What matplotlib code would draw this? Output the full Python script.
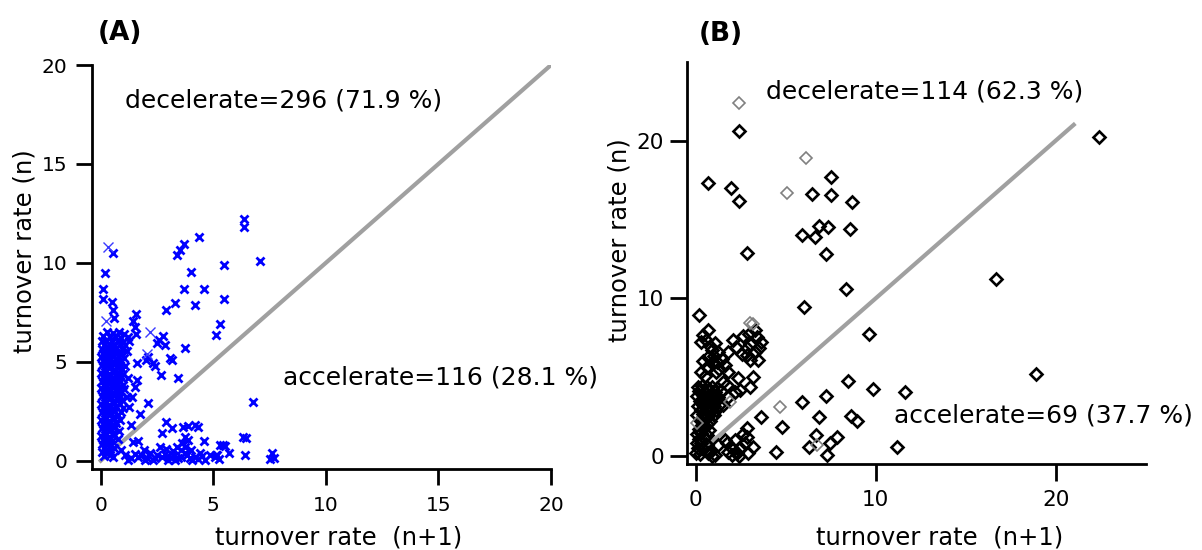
import numpy as np
import matplotlib
matplotlib.use('Agg')
import matplotlib.pyplot as plt

# ---- panel A : turnover rate (n) vs (n+1), blue crosses ----
# dense column near the origin
a_dense = [
    (0.30,6.50),(0.55,6.45),(0.80,6.50),(1.05,6.40),
    (0.10,6.30),(0.40,6.25),(0.65,6.30),(0.90,6.20),(1.20,6.25),
    (0.05,6.05),(0.25,6.10),(0.50,6.00),(0.75,6.10),(1.00,6.00),(1.25,6.05),
    (0.15,5.85),(0.35,5.90),(0.60,5.80),(0.85,5.90),(1.10,5.85),
    (0.05,5.65),(0.30,5.70),(0.50,5.60),(0.70,5.70),(0.95,5.65),(1.15,5.55),
    (0.10,5.45),(0.25,5.50),(0.45,5.40),(0.65,5.50),(0.90,5.45),
    (0.00,5.25),(0.20,5.30),(0.40,5.20),(0.60,5.30),(0.80,5.25),(1.05,5.20),
    (0.10,5.05),(0.30,5.10),(0.50,5.00),(0.70,5.10),(0.90,5.05),
    (0.05,4.85),(0.25,4.90),(0.45,4.80),(0.65,4.90),(0.85,4.85),(1.10,4.80),
    (0.15,4.65),(0.35,4.70),(0.55,4.60),(0.75,4.70),(0.95,4.65),
    (0.00,4.45),(0.20,4.50),(0.40,4.40),(0.60,4.50),(0.80,4.45),(1.00,4.40),
    (0.10,4.25),(0.30,4.30),(0.50,4.20),(0.70,4.30),(0.90,4.25),(1.20,4.20),
    (0.05,4.05),(0.25,4.10),(0.45,4.00),(0.65,4.10),(0.85,4.05),
    (0.15,3.85),(0.35,3.90),(0.55,3.80),(0.75,3.90),(1.00,3.85),
    (0.00,3.65),(0.20,3.70),(0.40,3.60),(0.60,3.70),(0.80,3.65),(1.05,3.60),
    (0.10,3.45),(0.30,3.50),(0.50,3.40),(0.70,3.50),(0.90,3.45),
    (0.05,3.25),(0.25,3.30),(0.45,3.20),(0.65,3.30),(0.85,3.25),(1.15,3.20),
    (0.15,3.05),(0.35,3.10),(0.55,3.00),(0.75,3.10),(0.95,3.05),
    (0.00,2.85),(0.20,2.90),(0.40,2.80),(0.60,2.90),(0.85,2.85),
    (0.10,2.65),(0.30,2.70),(0.50,2.60),(0.70,2.70),(1.00,2.65),
    (0.05,2.45),(0.25,2.50),(0.45,2.40),(0.65,2.50),(0.90,2.45),
    (0.15,2.25),(0.35,2.30),(0.55,2.20),(0.75,2.30),
    (0.00,2.05),(0.20,2.10),(0.40,2.00),(0.60,2.10),(0.85,2.05),
    (0.10,1.85),(0.30,1.90),(0.50,1.80),(0.70,1.90),
    (0.05,1.65),(0.25,1.70),(0.45,1.60),(0.65,1.70),
    (0.15,1.45),(0.35,1.50),(0.55,1.40),(0.80,1.50),
    (0.00,1.25),(0.20,1.30),(0.40,1.20),(0.60,1.30),
    (0.10,1.05),(0.30,1.10),(0.50,1.00),(0.75,1.10),
    (0.05,0.85),(0.25,0.90),(0.45,0.80),
    (0.15,0.65),(0.35,0.70),(0.60,0.65),
    (0.05,0.45),(0.25,0.50),(0.45,0.45),
    (0.15,0.25),(0.40,0.30),
]
# scattered points above the diagonal (decelerate)
a_upper = [
    (6.35,12.2),(6.38,11.8),(0.55,10.5),(4.35,11.3),(3.70,10.95),(3.50,10.65),
    (3.38,10.4),(7.07,10.1),(0.19,9.5),(5.46,9.9),(4.00,9.55),(0.12,8.67),
    (3.68,8.67),(4.60,8.67),(0.12,8.15),(0.50,8.0),(0.55,7.6),(0.60,7.2),
    (5.46,8.15),(3.30,7.95),(2.90,7.6),(4.20,7.86),(1.55,7.4),(1.45,7.05),
    (1.50,6.75),(1.57,6.4),(5.30,6.9),(5.10,6.33),(2.75,6.3),(2.60,6.1),
    (2.48,5.93),(2.85,5.84),(3.74,5.72),(2.10,5.25),(2.03,5.08),(2.33,4.92),
    (2.40,4.78),(3.07,5.17),(3.15,5.08),(1.59,4.95),(2.67,4.33),(3.41,4.16),
    (1.59,4.08),(1.51,3.74),(1.38,3.23),(1.27,2.73),(2.10,2.93),(1.74,2.36),
    (1.36,1.80),
]
# scattered points below the diagonal (accelerate)
a_lower = [
    (2.92,1.97),(3.15,1.64),(2.70,1.41),(3.67,1.72),(3.89,1.75),(4.19,1.80),
    (4.33,1.72),(3.74,1.21),(3.89,1.05),(3.59,0.88),(3.74,0.71),(4.60,1.01),
    (1.66,1.01),(1.44,0.96),(0.92,0.54),(0.55,0.20),
    (1.07,0.29),(1.36,0.12),(1.66,0.20),(1.96,0.04),(2.18,0.37),(2.40,0.12),
    (2.63,0.71),(2.70,0.20),(3.00,0.04),(3.22,0.29),(3.37,0.71),(3.44,0.12),
    (3.74,0.37),(3.96,0.12),(4.19,0.20),(4.41,0.37),(4.63,0.04),(4.86,0.29),
    (5.08,0.20),(1.20,0.05),(1.50,0.35),(1.80,0.30),(2.05,0.15),(2.30,0.05),
    (2.50,0.30),(2.85,0.35),(3.10,0.15),(3.30,0.05),(3.55,0.20),(3.85,0.30),
    (4.05,0.05),(4.30,0.10),(4.50,0.25),(3.20,0.50),(2.90,0.60),(3.55,0.55),
    (4.00,0.55),(1.90,0.55),
    (5.10,0.29),(5.24,0.10),(5.31,0.78),(5.50,0.74),(5.68,0.37),(6.30,1.20),
    (6.45,1.15),(6.43,0.29),(7.60,0.37),(7.70,0.15),(7.52,0.07),(6.77,2.95),
    (5.43,0.79),(5.17,0.29),
]
a_thin = [(0.34,10.8),(0.22,7.05),(2.20,6.5),(2.05,5.4)]
diag_a = [0, 20]

# ---- panel B : open diamonds ----
b_upper = [
    (2.42,20.6),(0.70,17.3),(1.96,17.0),(2.39,16.2),(2.83,12.9),(7.50,17.7),
    (6.46,16.6),(7.52,16.56),(8.68,16.1),(6.83,14.6),(7.33,14.5),(6.63,13.9),
    (5.89,14.0),(8.57,14.37),(7.22,12.8),(8.35,10.57),(6.02,9.45),(0.18,8.97),
    (22.4,20.2),
    (0.67,8.02),(0.42,7.66),(0.29,7.23),(2.09,7.34),(3.29,7.97),(3.39,7.55),
    (3.02,7.13),(3.63,7.23),(1.07,7.17),(0.89,6.71),(1.26,6.6),(1.81,6.6),
    (1.44,6.18),(1.17,5.97),(2.55,6.5),(2.83,6.39),(3.29,6.6),(3.44,6.12),
    (3.02,6.08),(0.61,5.65),(0.89,5.87),(1.63,5.76),(1.81,5.34),(0.30,5.30),
    (2.37,4.92),(3.20,5.02),(3.02,4.35),(1.53,4.70),(1.72,4.49),(2.18,4.07),
    (2.46,4.18),(1.81,3.75),(1.53,3.23),(0.55,7.35),(0.80,7.0),(0.70,6.3),
    (1.00,6.35),(0.40,6.0),(1.30,5.5),(2.60,7.6),(2.95,7.75),(3.50,6.85),
    (2.25,6.9),(2.85,6.85),(0.50,5.1),(1.10,5.3),
]
b_dense = [
    (0.10,4.40),(0.35,4.45),(0.60,4.35),(0.90,4.40),(1.20,4.30),
    (0.20,4.10),(0.50,4.05),(0.75,4.15),(1.05,4.05),(1.40,4.10),
    (0.05,3.80),(0.40,3.85),(0.65,3.75),(0.95,3.80),(1.25,3.75),
    (0.25,3.50),(0.55,3.55),(0.80,3.45),(1.10,3.50),
    (0.10,3.20),(0.40,3.25),(0.70,3.15),(1.00,3.20),(1.30,3.25),
    (0.30,2.90),(0.55,2.95),(0.85,2.85),(1.15,2.90),
    (0.05,2.60),(0.40,2.65),(0.70,2.55),(1.00,2.60),
    (0.25,2.30),(0.50,2.35),(0.80,2.25),
    (0.35,2.00),(0.65,2.05),
    (0.20,1.70),(0.45,1.75),(0.75,1.65),
    (0.05,1.40),(0.30,1.45),(0.60,1.35),
    (0.20,1.10),(0.45,1.15),
    (0.05,0.80),(0.30,0.85),(0.55,0.75),
    (0.15,0.50),(0.40,0.45),
    (0.00,0.20),(0.25,0.15),
]
b_lower = [
    (0.79,0.27),(1.07,0.06),(0.89,0.00),(0.70,0.17),(0.65,0.70),(1.25,0.70),
    (1.72,0.80),(1.81,0.27),(2.00,0.49),(2.18,1.01),(2.28,0.17),(2.46,0.49),
    (2.74,0.80),(2.83,1.22),(2.65,1.43),(2.83,1.75),(3.20,0.59),(2.90,0.20),
    (3.60,2.47),(4.45,0.25),(4.82,1.84),(5.90,3.40),(7.24,3.84),(6.85,2.50),
    (8.44,4.74),(9.87,4.26),(8.61,2.53),(8.94,2.24),(6.67,1.33),(7.83,1.18),
    (7.46,0.84),(6.29,0.59),(7.30,0.10),(2.00,0.05),(2.40,0.00),(1.60,1.00),
    (9.65,7.77),(16.7,11.25),(18.9,5.23),(11.65,4.05),(11.2,0.59),
]
b_gray = [(2.41,22.4),(6.11,18.9),(5.06,16.7),(3.00,8.46),(3.20,8.40),
          (4.68,3.10),(6.72,0.68),(0.05,2.07),(1.90,3.44)]
diag_b = [0, 21]

plt.rcParams['font.family'] = 'DejaVu Sans'

fig = plt.figure(figsize=(12.02, 5.5), dpi=100)
axA = fig.add_axes([0.0765, 0.1473, 0.3819, 0.7345])
axB = fig.add_axes([0.5713, 0.1564, 0.3819, 0.7314])

def style(ax, ticks, size, xpad, ypad, tlen):
    for s in ['top', 'right']:
        ax.spines[s].set_visible(False)
    for s in ['left', 'bottom']:
        ax.spines[s].set_linewidth(2)
    ax.set_xticks(ticks)
    ax.set_yticks(ticks)
    ax.set_xticklabels([str(t) for t in ticks], fontsize=size)
    ax.set_yticklabels([str(t) for t in ticks], fontsize=size)
    ax.tick_params(direction='out', length=tlen, width=2)
    ax.tick_params(axis='x', pad=xpad)
    ax.tick_params(axis='y', pad=ypad)

# panel A
axA.plot(diag_a, diag_a, color='#a0a0a0', lw=3, zorder=1)
for pts in [a_dense, a_upper, a_lower]:
    p = np.array(pts)
    axA.plot(p[:, 0], p[:, 1], 'x', color='#0000ff', ms=6, mew=2.0, zorder=2)
p = np.array(a_thin)
axA.plot(p[:, 0], p[:, 1], 'x', color='#3a3aff', ms=7, mew=1.0, zorder=2)
axA.set_xlim(-0.39, 20)
axA.set_ylim(-0.42, 20)
style(axA, [0, 5, 10, 15, 20], 14.5, 8, 6, 11.5)

# panel B
axB.plot(diag_b, diag_b, color='#a0a0a0', lw=3, zorder=1)
for pts in [b_dense, b_upper, b_lower]:
    p = np.array(pts)
    axB.plot(p[:, 0], p[:, 1], 'D', mfc='none', mec='black', ms=6, mew=1.9, zorder=2)
p = np.array(b_gray)
axB.plot(p[:, 0], p[:, 1], 'D', mfc='none', mec='#808080', ms=6.5, mew=1.2, zorder=2)
axB.set_xlim(-0.5, 25)
axB.set_ylim(-0.5, 25)
style(axB, [0, 10, 20], 15.5, 7, 4.5, 12)

W, H = 1202.0, 550.0
fig.text(98 / W, 1 - 32.5 / H, '(A)', fontsize=19, fontweight='bold', ha='left', va='center')
fig.text(699 / W, 1 - 34 / H, '(B)', fontsize=19, fontweight='bold', ha='left', va='center')

fig.text(125 / W, 1 - 107.5 / H, 'decelerate=296 (71.9 %)', fontsize=18, ha='left', va='baseline')
fig.text(283 / W, 1 - 384 / H, 'accelerate=116 (28.1 %)', fontsize=18, ha='left', va='baseline')
fig.text(765.5 / W, 1 - 98.3 / H, 'decelerate=114 (62.3 %)', fontsize=18, ha='left', va='baseline')
fig.text(894 / W, 1 - 422.3 / H, 'accelerate=69 (37.7 %)', fontsize=18, ha='left', va='baseline')

fig.text(339 / W, 1 - 545 / H, 'turnover rate  (n+1)', fontsize=17.5, ha='center', va='baseline')
fig.text(940 / W, 1 - 545 / H, 'turnover rate  (n+1)', fontsize=17.5, ha='center', va='baseline')
fig.text(25 / W, 1 - 251 / H, 'turnover rate (n)', fontsize=17.5, rotation=90, ha='center', va='center')
fig.text(620 / W, 1 - 240 / H, 'turnover rate (n)', fontsize=17.5, rotation=90, ha='center', va='center')

fig.savefig('out.png', dpi=100)
